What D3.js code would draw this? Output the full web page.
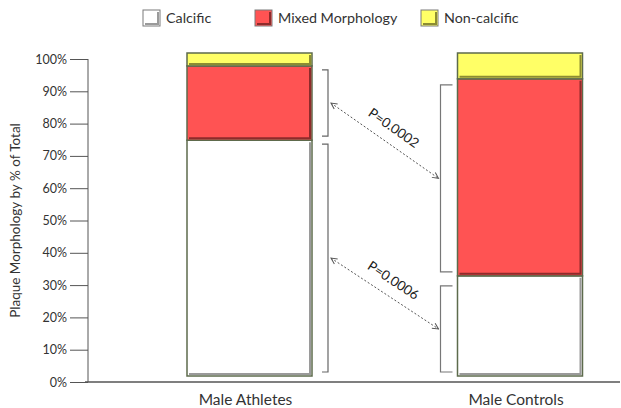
<!DOCTYPE html>
<html>
<head>
<meta charset="utf-8">
<script src="https://cdn.jsdelivr.net/npm/d3@7"></script>
<style>
  body { margin: 0; background: #fff; }
  svg { display: block; font-family: Lato, "Open Sans", sans-serif; }
</style>
</head>
<body>
<div id="chart"></div>
<script>
// data (percent of total)
var groups = ["Male Athletes", "Male Controls"];
var categories = ["Calcific", "Mixed Morphology", "Non-calcific"];
var calcific = [73, 31];
var mixed = [23, 61];
var nonCalcific = [4, 8];
var yTicks = [0, 10, 20, 30, 40, 50, 60, 70, 80, 90, 100];
var comparisons = ["Mixed Morphology", "Calcific"];
var pValues = ["P=0.0002", "P=0.0006"];

var colors = { "Calcific": "#ffffff", "Mixed Morphology": "#ff5353", "Non-calcific": "#ffff66" };
var edgeColors = { "Calcific": "#9a9a9a", "Mixed Morphology": "#8e2b2b", "Non-calcific": "#8c8c32" };

var width = 621, height = 408;

var svg = d3.select("#chart").append("svg")
    .attr("width", width)
    .attr("height", height);

// scales
var y = d3.scaleLinear().domain([0, 100]).range([382, 59]);
// bars sit a few px above the axis (3d look in the original)
var yBar = y.copy().range([376, 53]);
var x = d3.scalePoint().domain(groups).range([249.5, 520]);
var barWidth = 125;

// stack the data
var table = groups.map(function (g, i) {
    return { group: g, "Calcific": calcific[i], "Mixed Morphology": mixed[i], "Non-calcific": nonCalcific[i] };
});
var series = d3.stack().keys(categories)(table);

// y axis
var yAxis = svg.append("g")
    .attr("transform", "translate(88,0)")
    .call(d3.axisLeft(y).tickValues(yTicks).tickSize(18).tickPadding(3)
        .tickFormat(function (d) { return d + "%"; }));
yAxis.select(".domain").attr("stroke", "#555").attr("d", "M0," + y(100) + "V" + y(0));
yAxis.selectAll(".tick line").attr("stroke", "#555");
yAxis.selectAll(".tick text").attr("fill", "#333").style("font-size", "12.5px").style("font-family", "Lato, sans-serif");

// x axis baseline
svg.append("line")
    .attr("x1", 85).attr("x2", 620)
    .attr("y1", y(0)).attr("y2", y(0))
    .attr("stroke", "#555").attr("stroke-width", 1.5);

// y title
svg.append("text")
    .attr("transform", "translate(20," + ((y(0) + y(100)) / 2) + ") rotate(-90)")
    .attr("text-anchor", "middle")
    .style("font-size", "13.5px")
    .attr("fill", "#333")
    .text("Plaque Morphology by % of Total");

// x labels
svg.selectAll(".xlabel")
    .data(groups)
    .enter().append("text")
    .attr("x", function (d) { return x(d) - 4; })
    .attr("y", 405)
    .attr("text-anchor", "middle")
    .style("font-size", "15.5px")
    .attr("fill", "#333")
    .text(function (d) { return d; });

// bars
var layer = svg.selectAll(".layer")
    .data(series)
    .enter().append("g");

layer.selectAll("rect.seg")
    .data(function (s) { return s.map(function (d) { d.key = s.key; return d; }); })
    .enter().append("rect")
    .attr("x", function (d) { return x(d.data.group) - barWidth / 2; })
    .attr("y", function (d) { return yBar(d[1]); })
    .attr("width", barWidth)
    .attr("height", function (d) { return yBar(d[0]) - yBar(d[1]); })
    .attr("fill", function (d) { return colors[d.key]; })
    .attr("stroke", "#5d6b4c")
    .attr("stroke-width", 1.5);

// darker bevel at bottom and right of each segment
layer.selectAll("path.bevel")
    .data(function (s) { return s.map(function (d) { d.key = s.key; return d; }); })
    .enter().append("path")
    .attr("fill", "none")
    .attr("stroke", function (d) { return edgeColors[d.key]; })
    .attr("stroke-width", 2)
    .attr("d", function (d) {
        var x0 = x(d.data.group) - barWidth / 2 + 2, x1 = x(d.data.group) + barWidth / 2 - 2;
        var y0 = yBar(d[1]) + 2, y1 = yBar(d[0]) - 2;
        return "M" + x0 + "," + y1 + "H" + x1 + "V" + y0;
    });

// brackets next to the compared segments
var bracketInfo = [];
comparisons.forEach(function (cat, k) {
    var s = series[categories.indexOf(cat)];
    var left = s[0], right = s[1];
    var lx = x(groups[0]) + barWidth / 2 + 16;
    var rx = x(groups[1]) - barWidth / 2 - 17;
    var ly0 = yBar(left[1]) + 4, ly1 = yBar(left[0]) - 4;
    var ry0 = yBar(right[1]) + (k == 0 ? 6 : 10), ry1 = yBar(right[0]) - 4;
    svg.append("path")
        .attr("fill", "none").attr("stroke", "#666").attr("stroke-width", 1.2)
        .attr("d", "M" + (lx - 6) + "," + ly0 + "H" + lx + "V" + ly1 + "H" + (lx - 6));
    svg.append("path")
        .attr("fill", "none").attr("stroke", "#777").attr("stroke-width", 1.2)
        .attr("d", "M" + (rx + 12) + "," + ry0 + "H" + rx + "V" + ry1 + "H" + (rx + 12));
    bracketInfo.push({ x1: lx + 3, y1: (ly0 + ly1) / 2, x2: rx - 2, y2: (ry0 + ry1) / 2, label: pValues[k] });
});

// arrow heads
var defs = svg.append("defs");
["start", "end"].forEach(function (n) {
    defs.append("marker")
        .attr("id", "arrow-" + n)
        .attr("viewBox", "0 0 8 8")
        .attr("refX", n == "end" ? 7 : 1).attr("refY", 4)
        .attr("markerWidth", 8).attr("markerHeight", 8)
        .attr("markerUnits", "userSpaceOnUse")
        .attr("orient", "auto")
        .append("path")
        .attr("d", n == "end" ? "M1,1 L7,4 L1,7" : "M7,1 L1,4 L7,7")
        .attr("fill", "none").attr("stroke", "#555").attr("stroke-width", 1);
});

bracketInfo.forEach(function (b) {
    svg.append("line")
        .attr("x1", b.x1).attr("y1", b.y1).attr("x2", b.x2).attr("y2", b.y2)
        .attr("stroke", "#555").attr("stroke-width", 1)
        .attr("stroke-dasharray", "2,2")
        .attr("marker-start", "url(#arrow-start)")
        .attr("marker-end", "url(#arrow-end)");
    var ang = Math.atan2(b.y2 - b.y1, b.x2 - b.x1) * 180 / Math.PI;
    var mx = (b.x1 + b.x2) / 2, my = (b.y1 + b.y2) / 2;
    svg.append("text")
        .attr("transform", "translate(" + mx + "," + my + ") rotate(" + ang + ")")
        .attr("y", -11)
        .attr("text-anchor", "middle")
        .style("font-size", "13.5px")
        .attr("fill", "#222")
        .text(b.label);
});

// legend
var legendX = [143, 255, 421];
var legend = svg.selectAll(".legend")
    .data(categories)
    .enter().append("g")
    .attr("transform", function (d, i) { return "translate(" + legendX[i] + ",10)"; });
legend.append("rect")
    .attr("width", 17).attr("height", 16)
    .attr("fill", function (d) { return colors[d]; })
    .attr("stroke", "#7a7a7a").attr("stroke-width", 1);
legend.append("path")
    .attr("fill", "none")
    .attr("stroke", function (d) { return edgeColors[d]; })
    .attr("stroke-width", 2)
    .attr("d", "M2,14 H15 V2");
legend.append("text")
    .attr("x", 23).attr("y", 13)
    .style("font-size", "14.3px")
    .attr("fill", "#333")
    .text(function (d) { return d; });
</script>
</body>
</html>
